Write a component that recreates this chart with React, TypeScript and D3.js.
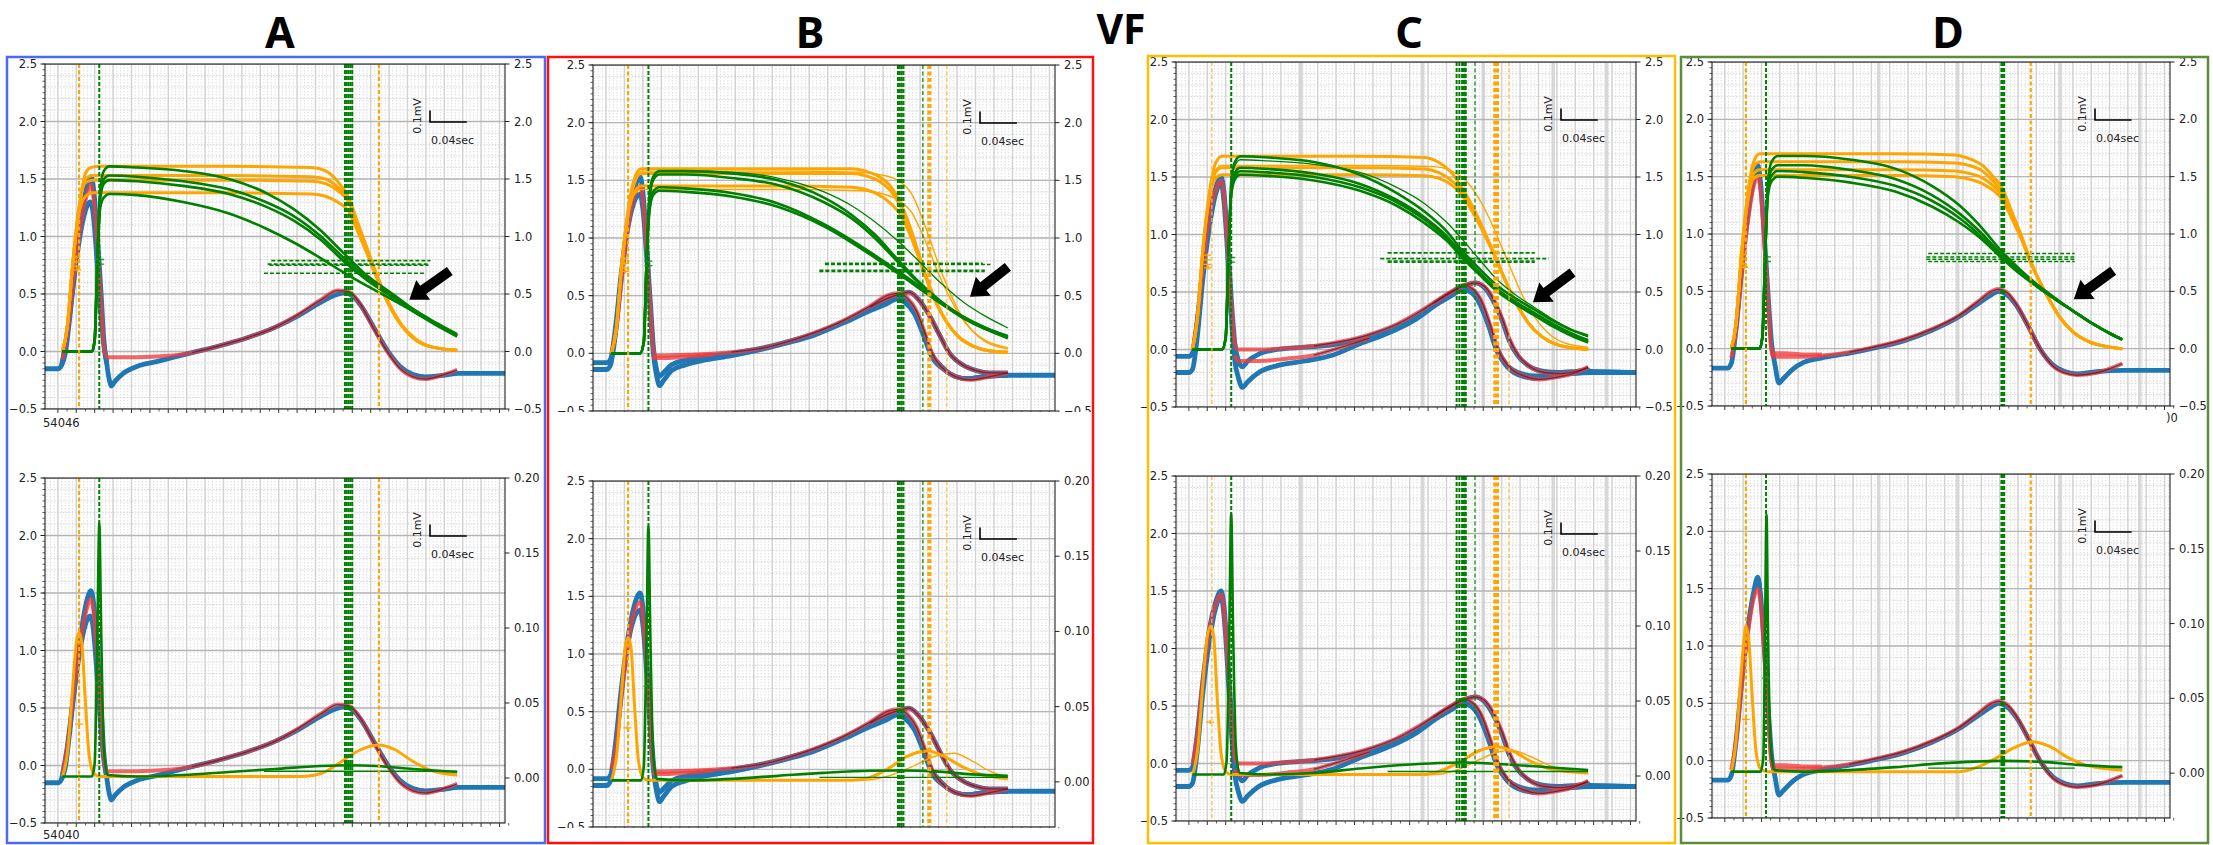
import React from 'react';
import * as d3 from 'd3';

type P = [number, number];
type HSeg = [number, number, number];

const X_DOMAIN: [number, number] = [0, 500];
const LEFT_TICKS = [-0.5, 0, 0.5, 1.0, 1.5, 2.0, 2.5];
const RIGHT_TICKS_LOW = [0, 0.05, 0.1, 0.15, 0.2];
const TITLES = ['A', 'B', 'C', 'D'];
const MARK_ORANGE_TOP: P[] = [[34,0.82],[34,0.78],[34,0.74],[35,0.71]];
const MARK_GREEN_TOP: P[] = [[60,0.8],[60,0.76]];
const MARK_ORANGE_LOW: P[] = [[37,0.36]];
const MARK_GREEN_LOW: P[] = [[59,0.72]];

// ---------------- Panel A ----------------
const aBlue: P[][] = [
  [[0,-0.15],[14,-0.15],[18,-0.12],[22,-0.02],[27,0.3],[33,0.75],[40,1.2],[46,1.45],[50,1.52],[53,1.4],[57,1.0],[61,0.5],[64,0.1],[67,-0.1],[70,-0.25],[72,-0.3],[76,-0.26],[85,-0.19],[100,-0.13],[120,-0.09],[140,-0.05],[160,-0.01],[190,0.05],[220,0.12],[250,0.21],[275,0.31],[300,0.43],[315,0.49],[326,0.51],[335,0.48],[345,0.38],[358,0.2],[373,0.0],[386,-0.13],[400,-0.2],[413,-0.22],[430,-0.21],[450,-0.19],[500,-0.19]],
  [[18,-0.12],[24,0.15],[31,0.6],[39,1.05],[45,1.25],[49,1.3],[52,1.22],[56,0.85],[60,0.4],[64,0.05],[67,-0.1]],
];
const aRed: P[][] = [
  [[19,-0.07],[25,0.2],[32,0.7],[40,1.15],[46,1.38],[50,1.45],[53,1.32],[57,0.9],[61,0.4],[64,0.05],[67,-0.05],[80,-0.05],[100,-0.05],[130,-0.04],[160,-0.01],[190,0.05],[220,0.12],[250,0.21],[275,0.32],[300,0.45],[318,0.53],[330,0.52],[342,0.42],[356,0.22],[372,0.0],[385,-0.14],[400,-0.22],[413,-0.24],[430,-0.21],[448,-0.16]],
];
const aOrange: P[][] = [
  [[19,0],[24,0.2],[30,0.75],[37,1.25],[44,1.55],[50,1.6],[60,1.61],[200,1.61],[290,1.6],[305,1.57],[318,1.48],[330,1.34],[340,1.12],[350,0.9],[362,0.64],[374,0.42],[388,0.23],[403,0.11],[420,0.04],[448,0.01]],
  [[19,0],[24,0.2],[30,0.75],[37,1.25],[44,1.5],[52,1.53],[200,1.53],[290,1.52],[305,1.5],[318,1.43],[330,1.32],[340,1.1],[350,0.89],[362,0.63],[374,0.41],[388,0.22],[403,0.1],[420,0.04],[448,0.01]],
  [[19,0],[24,0.2],[30,0.75],[37,1.25],[44,1.47],[52,1.49],[200,1.49],[290,1.48],[305,1.46],[318,1.4],[330,1.3],[340,1.09],[350,0.88],[362,0.62],[374,0.41],[388,0.22],[403,0.1],[420,0.04],[448,0.01]],
  [[19,0],[24,0.2],[30,0.75],[37,1.2],[44,1.35],[52,1.38],[200,1.38],[290,1.37],[305,1.35],[318,1.3],[330,1.22],[340,1.04],[350,0.85],[362,0.61],[374,0.4],[388,0.22],[403,0.1],[420,0.04],[448,0.01]],
];
const aOrangeThin: P[][] = [];
const aGreen: P[][] = [
  [[19,0],[51,0],[54,0.1],[57,0.8],[60,1.4],[64,1.57],[70,1.61],[100,1.6],[150,1.57],[200,1.5],[240,1.38],[270,1.24],[300,1.05],[324,0.86],[350,0.66],[378,0.5],[400,0.37],[425,0.25],[448,0.15]],
  [[19,0],[51,0],[54,0.1],[57,0.8],[60,1.35],[64,1.5],[70,1.53],[100,1.52],[150,1.48],[200,1.41],[240,1.3],[270,1.18],[300,1.0],[324,0.82],[350,0.64],[378,0.48],[400,0.36],[425,0.24],[448,0.14]],
  [[19,0],[51,0],[54,0.1],[57,0.8],[60,1.33],[64,1.46],[70,1.49],[100,1.48],[150,1.44],[200,1.37],[240,1.26],[270,1.14],[300,0.97],[324,0.79],[350,0.62],[378,0.47],[400,0.35],[425,0.23],[448,0.13]],
  [[19,0],[51,0],[54,0.1],[57,0.8],[60,1.25],[64,1.34],[70,1.37],[100,1.36],[150,1.3],[200,1.2],[240,1.07],[270,0.95],[300,0.81],[324,0.69],[350,0.57],[378,0.45],[400,0.35],[425,0.24],[448,0.14]],
];
const aGreenThin: P[][] = [];
const aOrangeLow: P[][] = [
  [[19,0.001],[25,0.02],[30,0.06],[34,0.09],[37,0.097],[40,0.09],[44,0.05],[48,0.015],[53,0.003],[60,0.001],[280,0.001],[300,0.003],[320,0.01],[340,0.018],[363,0.022],[380,0.019],[400,0.011],[420,0.005],[448,0.002]],
];
const aOrangeLowThin: P[][] = [];
const aGreenLow: P[][] = [
  [[19,0.001],[51,0.001],[54,0.01],[57,0.1],[59,0.17],[61,0.1],[64,0.02],[68,0.002],[100,0.001],[150,0.002],[200,0.004],[250,0.006],[300,0.008],[330,0.0085],[360,0.008],[400,0.006],[448,0.004]],
];
const aGreenLowThin: P[][] = [[[238,0.0045],[448,0.0045]]];
const aVOrange = [37, 363];
const aVOrangeThin: number[] = [];
const aVGreen = [59, 326, 328, 330, 332, 334];
const aVGreenThin: number[] = [];
const aHGreen: HSeg[] = [[246,419,0.79],[242,417,0.76],[244,417,0.75],[238,413,0.68]];
const aArrow: [P, P] = [[440,0.7],[396,0.45]];
const aBands: number[] = [];

// ---------------- Panel B ----------------
const bBlue: P[][] = [
  [[0,-0.08],[15,-0.08],[19,-0.05],[24,0.2],[30,0.65],[37,1.1],[44,1.4],[51,1.53],[54,1.4],[58,0.95],[62,0.45],[66,0.0],[69,-0.15],[72,-0.2],[76,-0.17],[85,-0.1],[100,-0.06],[120,-0.03],[150,0.0],[180,0.04],[210,0.1],[240,0.17],[270,0.27],[300,0.39],[318,0.46],[329,0.49],[338,0.46],[348,0.36],[358,0.17],[366,0.0],[378,-0.12],[392,-0.2],[406,-0.22],[425,-0.2],[450,-0.19],[500,-0.19]],
  [[0,-0.14],[15,-0.14],[19,-0.1],[24,0.15],[30,0.6],[37,1.05],[44,1.3],[51,1.38],[54,1.25],[58,0.85],[62,0.35],[66,-0.05],[69,-0.2],[72,-0.28],[76,-0.24],[85,-0.15],[100,-0.1],[120,-0.06],[150,-0.02],[180,0.03],[210,0.09],[240,0.16],[270,0.26],[300,0.37],[318,0.43],[329,0.47],[338,0.44],[348,0.34],[358,0.15],[366,-0.02],[378,-0.13],[392,-0.2],[406,-0.22],[425,-0.2],[449,-0.19]],
  [[300,0.38],[320,0.47],[335,0.52],[342,0.53],[352,0.47],[364,0.33],[375,0.16],[386,0.0],[400,-0.1],[415,-0.15],[429,-0.17],[449,-0.17]],
];
const bRed: P[][] = [
  [[20,0.0],[25,0.2],[31,0.65],[38,1.1],[45,1.37],[51,1.45],[54,1.33],[58,0.9],[62,0.4],[65,0.05],[67,-0.02],[80,-0.02],[110,-0.01],[150,0.01],[180,0.04],[210,0.1],[240,0.18],[270,0.28],[300,0.41],[318,0.5],[330,0.52],[340,0.48],[350,0.37],[359,0.18],[367,0.0],[380,-0.14],[395,-0.21],[408,-0.23],[425,-0.21],[449,-0.17]],
  [[64,-0.04],[80,-0.04],[100,-0.03],[130,-0.01]],
  [[300,0.4],[320,0.48],[335,0.52],[342,0.53],[352,0.47],[364,0.33],[375,0.16],[386,0.0],[400,-0.1],[415,-0.15],[430,-0.17],[449,-0.17]],
];
const bOrange: P[][] = [
  [[20,0],[25,0.2],[31,0.75],[38,1.25],[45,1.52],[52,1.6],[200,1.6],[280,1.6],[295,1.58],[310,1.53],[322,1.45],[333,1.3],[343,1.1],[352,0.88],[360,0.68],[370,0.47],[382,0.28],[396,0.14],[412,0.06],[430,0.02],[449,0.01]],
  [[20,0],[25,0.2],[31,0.75],[38,1.22],[45,1.48],[52,1.56],[200,1.56],[280,1.56],[295,1.54],[310,1.49],[322,1.41],[333,1.27],[343,1.08],[352,0.87],[360,0.67],[370,0.47],[382,0.28],[396,0.14],[412,0.06],[430,0.02],[449,0.01]],
  [[20,0],[25,0.2],[31,0.75],[38,1.2],[45,1.4],[52,1.45],[200,1.45],[280,1.44],[295,1.42],[310,1.37],[322,1.3],[333,1.2],[343,1.03],[352,0.84],[360,0.66],[370,0.46],[382,0.28],[396,0.14],[412,0.06],[430,0.02],[449,0.01]],
];
const bOrangeThin: P[][] = [
  [[20,0],[25,0.2],[31,0.75],[38,1.25],[45,1.5],[52,1.58],[200,1.58],[290,1.57],[310,1.55],[330,1.5],[345,1.38],[355,1.2],[365,0.98],[375,0.75],[385,0.55],[397,0.35],[410,0.2],[425,0.1],[449,0.04]],
  [[20,0],[25,0.2],[31,0.75],[38,1.2],[45,1.38],[52,1.42],[200,1.42],[290,1.41],[310,1.39],[330,1.33],[345,1.22],[355,1.06],[365,0.87],[375,0.67],[385,0.5],[397,0.33],[410,0.2],[425,0.11],[449,0.05]],
];
const bGreen: P[][] = [
  [[20,0],[51,0],[55,0.1],[58,0.8],[61,1.35],[65,1.53],[72,1.58],[100,1.58],[150,1.56],[200,1.5],[250,1.35],[280,1.2],[305,1.03],[329,0.82],[350,0.64],[375,0.46],[400,0.32],[425,0.22],[449,0.14]],
  [[20,0],[51,0],[55,0.1],[58,0.8],[61,1.32],[65,1.5],[72,1.55],[100,1.55],[150,1.52],[200,1.46],[250,1.31],[280,1.17],[305,1.0],[329,0.8],[350,0.63],[375,0.45],[400,0.31],[425,0.21],[449,0.13]],
  [[20,0],[51,0],[55,0.1],[58,0.8],[61,1.25],[65,1.4],[72,1.44],[100,1.43],[150,1.39],[200,1.3],[250,1.12],[280,0.98],[305,0.85],[329,0.72],[350,0.6],[375,0.45],[400,0.32],[425,0.22],[449,0.15]],
  [[20,0],[51,0],[55,0.1],[58,0.8],[61,1.22],[65,1.37],[72,1.41],[100,1.4],[150,1.36],[200,1.27],[250,1.1],[280,0.96],[305,0.83],[329,0.7],[350,0.58],[375,0.44],[400,0.31],[425,0.21],[449,0.14]],
];
const bGreenThin: P[][] = [
  [[20,0],[51,0],[55,0.1],[58,0.8],[61,1.35],[65,1.53],[72,1.58],[100,1.58],[150,1.57],[200,1.52],[250,1.4],[280,1.28],[305,1.14],[329,0.98],[350,0.82],[375,0.62],[400,0.45],[425,0.32],[449,0.22]],
];
const bOrangeLow: P[][] = [
  [[20,0.001],[26,0.02],[31,0.06],[35,0.09],[38,0.096],[41,0.09],[45,0.05],[49,0.015],[54,0.003],[60,0.001],[280,0.001],[300,0.003],[320,0.009],[340,0.017],[362,0.0205],[380,0.017],[400,0.01],[420,0.005],[449,0.002]],
];
const bOrangeLowThin: P[][] = [
  [[60,0.001],[290,0.001],[320,0.004],[345,0.01],[370,0.017],[391,0.019],[410,0.014],[430,0.007],[449,0.003]],
];
const bGreenLow: P[][] = [
  [[20,0.001],[52,0.001],[55,0.01],[58,0.1],[60,0.17],[62,0.1],[65,0.02],[69,0.002],[100,0.001],[150,0.002],[200,0.004],[250,0.006],[300,0.0074],[333,0.0076],[370,0.007],[410,0.005],[449,0.004]],
];
const bGreenLowThin: P[][] = [[[245,0.003],[449,0.003]]];
const bVOrange = [38, 363, 365];
const bVOrangeThin = [383];
const bVGreen = [60, 330, 332, 334, 336];
const bVGreenThin = [357];
const bHGreen: HSeg[] = [[251,422,0.78],[251,430,0.77],[245,424,0.71],[245,424,0.72]];
const bArrow: [P, P] = [[449,0.75],[408,0.49]];
const bBands: number[] = [];

// ---------------- Panel C ----------------
const cBlue: P[][] = [
  [[0,-0.06],[14,-0.06],[18,-0.03],[23,0.25],[29,0.7],[36,1.15],[43,1.4],[49,1.5],[52,1.38],[56,0.95],[60,0.45],[64,0.05],[68,-0.1],[72,-0.15],[78,-0.1],[90,-0.04],[110,0.0],[140,0.02],[170,0.04],[200,0.09],[230,0.16],[260,0.28],[285,0.41],[300,0.48],[311,0.53],[320,0.52],[330,0.43],[340,0.22],[348,0.03],[358,-0.12],[372,-0.2],[390,-0.23],[410,-0.22],[430,-0.2],[450,-0.19],[500,-0.2]],
  [[0,-0.2],[14,-0.2],[18,-0.17],[23,0.1],[29,0.6],[36,1.05],[43,1.35],[49,1.45],[52,1.3],[56,0.85],[60,0.3],[64,-0.1],[68,-0.25],[72,-0.33],[78,-0.28],[90,-0.2],[110,-0.14],[140,-0.1],[170,-0.05],[200,0.05],[230,0.14],[260,0.26],[285,0.4],[300,0.47],[311,0.52],[320,0.5],[330,0.4],[340,0.2],[348,0.0],[358,-0.13],[372,-0.22],[390,-0.25],[410,-0.23],[430,-0.21],[450,-0.2],[500,-0.2]],
  [[280,0.38],[300,0.5],[315,0.56],[325,0.58],[335,0.54],[345,0.42],[355,0.24],[362,0.08],[372,-0.06],[385,-0.15],[400,-0.19],[416,-0.2],[435,-0.19],[450,-0.18]],
];
const cRed: P[][] = [
  [[18,0.0],[23,0.25],[29,0.7],[36,1.15],[43,1.38],[49,1.47],[52,1.35],[56,0.9],[60,0.4],[64,0.05],[67,0.0],[90,0.0],[120,0.01],[150,0.03],[180,0.07],[210,0.13],[240,0.22],[265,0.33],[290,0.46],[305,0.53],[313,0.56],[322,0.53],[332,0.42],[342,0.2],[350,0.0],[362,-0.15],[378,-0.23],[395,-0.26],[415,-0.24],[435,-0.2],[448,-0.15]],
  [[64,-0.05],[67,-0.1],[90,-0.1],[120,-0.08],[150,-0.05],[180,0.02],[210,0.1]],
  [[280,0.4],[300,0.5],[315,0.56],[325,0.58],[335,0.55],[345,0.44],[355,0.26],[362,0.1],[372,-0.05],[385,-0.15],[400,-0.2],[416,-0.21],[435,-0.19],[448,-0.16]],
];
const cOrange: P[][] = [
  [[18,0],[23,0.25],[29,0.85],[36,1.35],[43,1.62],[50,1.68],[200,1.68],[270,1.67],[285,1.63],[298,1.55],[310,1.42],[322,1.25],[334,1.05],[346,0.83],[358,0.6],[370,0.4],[383,0.23],[398,0.11],[415,0.04],[448,0.0]],
  [[18,0],[23,0.25],[29,0.85],[36,1.32],[43,1.54],[50,1.58],[200,1.58],[270,1.57],[285,1.54],[298,1.48],[310,1.38],[322,1.22],[334,1.03],[346,0.82],[358,0.6],[370,0.4],[383,0.23],[398,0.11],[415,0.04],[448,0.0]],
  [[18,0],[23,0.25],[29,0.85],[36,1.3],[43,1.49],[50,1.52],[200,1.52],[270,1.51],[285,1.49],[298,1.44],[310,1.35],[322,1.2],[334,1.02],[346,0.82],[358,0.6],[370,0.4],[383,0.23],[398,0.11],[415,0.04],[448,0.0]],
];
const cOrangeThin: P[][] = [
  [[18,0],[23,0.25],[29,0.85],[36,1.33],[43,1.56],[50,1.6],[200,1.6],[280,1.59],[300,1.55],[315,1.47],[328,1.33],[340,1.15],[352,0.93],[364,0.7],[376,0.48],[390,0.28],[405,0.14],[425,0.05],[448,0.02]],
];
const cGreen: P[][] = [
  [[18,0],[50,0],[54,0.1],[57,0.8],[60,1.45],[64,1.63],[70,1.68],[100,1.67],[150,1.63],[200,1.52],[240,1.36],[270,1.2],[295,1.02],[311,0.86],[330,0.7],[350,0.55],[370,0.44],[389,0.35],[410,0.25],[430,0.17],[448,0.12]],
  [[18,0],[50,0],[54,0.1],[57,0.8],[60,1.38],[64,1.54],[70,1.58],[100,1.57],[150,1.53],[200,1.44],[240,1.3],[270,1.15],[295,0.98],[311,0.83],[330,0.67],[350,0.52],[370,0.41],[389,0.32],[410,0.22],[430,0.14],[448,0.08]],
  [[18,0],[50,0],[54,0.1],[57,0.8],[60,1.34],[64,1.48],[70,1.52],[100,1.51],[150,1.47],[200,1.38],[240,1.25],[270,1.1],[295,0.94],[311,0.8],[330,0.65],[350,0.5],[370,0.39],[389,0.3],[410,0.2],[430,0.12],[448,0.06]],
  [[18,0],[50,0],[54,0.1],[57,0.8],[60,1.36],[64,1.51],[70,1.55],[100,1.54],[150,1.5],[200,1.41],[240,1.28],[270,1.13],[295,0.96],[311,0.81],[330,0.66],[350,0.51],[370,0.4],[389,0.31],[410,0.21],[430,0.13],[448,0.07]],
];
const cGreenThin: P[][] = [
  [[18,0],[50,0],[54,0.1],[57,0.8],[60,1.42],[64,1.6],[70,1.65],[100,1.64],[150,1.61],[200,1.54],[240,1.41],[270,1.27],[295,1.1],[311,0.96],[330,0.78],[350,0.6],[370,0.47],[389,0.37],[410,0.26],[430,0.17],[448,0.11]],
];
const cOrangeLow: P[][] = [
  [[18,0.001],[24,0.02],[29,0.06],[34,0.093],[38,0.1],[41,0.093],[45,0.05],[49,0.015],[54,0.003],[60,0.001],[270,0.001],[290,0.004],[310,0.01],[330,0.017],[348,0.0195],[365,0.017],[385,0.01],[405,0.005],[448,0.002]],
];
const cOrangeLowThin: P[][] = [
  [[60,0.001],[280,0.001],[305,0.004],[330,0.011],[350,0.016],[365,0.017],[385,0.013],[410,0.006],[448,0.002]],
];
const cGreenLow: P[][] = [
  [[18,0.001],[52,0.001],[55,0.01],[58,0.1],[60,0.175],[62,0.1],[65,0.02],[69,0.002],[100,0.001],[150,0.002],[200,0.005],[250,0.0075],[311,0.009],[350,0.008],[400,0.006],[448,0.004]],
];
const cGreenLowThin: P[][] = [[[230,0.003],[448,0.003]]];
const cVOrange = [346, 348, 350];
const cVOrangeThin = [39, 362];
const cVGreen = [60, 305, 308, 311, 313, 315];
const cVGreenThin = [325];
const cHGreen: HSeg[] = [[230,390,0.84],[222,405,0.79],[230,390,0.77],[230,390,0.76]];
const cArrow: [P, P] = [[431,0.67],[388,0.41]];
const cBands = [136, 268, 334, 410, 468];

// ---------------- Panel D ----------------
const dBlue: P[][] = [
  [[0,-0.17],[17,-0.17],[21,-0.13],[26,0.15],[32,0.65],[39,1.15],[45,1.45],[50,1.6],[53,1.45],[57,1.0],[61,0.5],[65,0.05],[69,-0.15],[73,-0.3],[78,-0.26],[88,-0.18],[100,-0.12],[120,-0.08],[150,-0.04],[180,0.01],[210,0.07],[240,0.16],[270,0.28],[290,0.39],[305,0.47],[313,0.5],[322,0.47],[332,0.38],[345,0.2],[358,0.0],[372,-0.14],[385,-0.2],[398,-0.22],[420,-0.2],[450,-0.19],[500,-0.19]],
];
const dRed: P[][] = [
  [[21,-0.08],[26,0.15],[32,0.62],[39,1.1],[45,1.4],[50,1.5],[53,1.38],[57,0.95],[61,0.45],[64,0.05],[67,-0.07],[80,-0.07],[100,-0.07],[120,-0.06],[150,-0.03],[180,0.02],[210,0.08],[240,0.17],[270,0.29],[290,0.41],[305,0.5],[313,0.52],[322,0.49],[332,0.39],[345,0.2],[358,0.0],[372,-0.15],[385,-0.21],[398,-0.23],[420,-0.21],[448,-0.13]],
  [[64,-0.04],[80,-0.04],[100,-0.05],[120,-0.05]],
];
const dOrange: P[][] = [
  [[21,0],[26,0.2],[32,0.8],[39,1.35],[45,1.62],[52,1.7],[200,1.7],[265,1.69],[280,1.66],[295,1.6],[307,1.5],[317,1.4],[327,1.2],[338,0.98],[348,0.76],[358,0.58],[368,0.43],[380,0.27],[395,0.14],[412,0.06],[430,0.02],[448,0.0]],
  [[21,0],[26,0.2],[32,0.8],[39,1.33],[45,1.58],[52,1.63],[200,1.63],[265,1.62],[280,1.6],[295,1.55],[307,1.46],[317,1.36],[327,1.18],[338,0.97],[348,0.76],[358,0.58],[368,0.43],[380,0.27],[395,0.14],[412,0.06],[430,0.02],[448,0.0]],
  [[21,0],[26,0.2],[32,0.8],[39,1.3],[45,1.52],[52,1.56],[200,1.56],[265,1.55],[280,1.53],[295,1.49],[307,1.42],[317,1.33],[327,1.16],[338,0.96],[348,0.75],[358,0.58],[368,0.43],[380,0.27],[395,0.14],[412,0.06],[430,0.02],[448,0.0]],
  [[21,0],[26,0.2],[32,0.8],[39,1.28],[45,1.48],[52,1.51],[200,1.51],[265,1.5],[280,1.48],[295,1.44],[307,1.38],[317,1.3],[327,1.14],[338,0.95],[348,0.75],[358,0.58],[368,0.43],[380,0.27],[395,0.14],[412,0.06],[430,0.02],[448,0.0]],
];
const dOrangeThin: P[][] = [];
const dGreen: P[][] = [
  [[21,0],[52,0],[55,0.1],[58,0.8],[61,1.45],[65,1.63],[72,1.68],[100,1.68],[150,1.65],[200,1.57],[240,1.42],[270,1.25],[295,1.05],[315,0.86],[335,0.7],[355,0.56],[375,0.44],[394,0.33],[415,0.22],[435,0.13],[448,0.08]],
  [[21,0],[52,0],[55,0.1],[58,0.8],[61,1.4],[65,1.56],[72,1.6],[100,1.6],[150,1.56],[200,1.48],[240,1.34],[270,1.18],[295,1.0],[315,0.83],[335,0.68],[355,0.55],[375,0.43],[394,0.33],[415,0.22],[435,0.13],[448,0.08]],
  [[21,0],[52,0],[55,0.1],[58,0.8],[61,1.37],[65,1.51],[72,1.55],[100,1.54],[150,1.5],[200,1.42],[240,1.29],[270,1.14],[295,0.97],[315,0.81],[335,0.67],[355,0.54],[375,0.43],[394,0.33],[415,0.22],[435,0.13],[448,0.08]],
  [[21,0],[52,0],[55,0.1],[58,0.8],[61,1.33],[65,1.46],[72,1.5],[100,1.49],[150,1.45],[200,1.37],[240,1.24],[270,1.1],[295,0.95],[315,0.8],[335,0.66],[355,0.54],[375,0.43],[394,0.33],[415,0.22],[435,0.13],[448,0.08]],
];
const dGreenThin: P[][] = [];
const dOrangeLow: P[][] = [
  [[21,0.001],[26,0.02],[31,0.06],[35,0.09],[37,0.098],[40,0.09],[44,0.05],[48,0.015],[53,0.003],[60,0.001],[270,0.001],[290,0.004],[310,0.01],[330,0.017],[350,0.021],[368,0.018],[390,0.01],[410,0.005],[448,0.002]],
];
const dOrangeLowThin: P[][] = [];
const dGreenLow: P[][] = [
  [[21,0.001],[53,0.001],[56,0.01],[58,0.1],[59.5,0.173],[61,0.1],[64,0.02],[68,0.002],[100,0.001],[150,0.002],[200,0.004],[250,0.0065],[315,0.0082],[360,0.0075],[400,0.0055],[448,0.004]],
];
const dGreenLowThin: P[][] = [[[236,0.0033],[396,0.0033]]];
const dVOrange = [37, 348];
const dVOrangeThin: number[] = [];
const dVGreen = [59, 316, 317.5, 319];
const dVGreenThin: number[] = [];
const dHGreen: HSeg[] = [[236,396,0.83],[234,396,0.8],[234,396,0.78],[236,396,0.76]];
const dArrow: [P, P] = [[438,0.68],[395,0.43]];
const dBands = [182, 268, 380, 467];

// ---------- tables built from the arrays ----------
const DATA = [
  { blue: aBlue, red: aRed, orange: aOrange, orangeThin: aOrangeThin, green: aGreen, greenThin: aGreenThin, orangeLow: aOrangeLow, orangeLowThin: aOrangeLowThin, greenLow: aGreenLow, greenLowThin: aGreenLowThin, vOrange: aVOrange, vOrangeThin: aVOrangeThin, vGreen: aVGreen, vGreenThin: aVGreenThin, hGreen: aHGreen, arrow: aArrow, bands: aBands },
  { blue: bBlue, red: bRed, orange: bOrange, orangeThin: bOrangeThin, green: bGreen, greenThin: bGreenThin, orangeLow: bOrangeLow, orangeLowThin: bOrangeLowThin, greenLow: bGreenLow, greenLowThin: bGreenLowThin, vOrange: bVOrange, vOrangeThin: bVOrangeThin, vGreen: bVGreen, vGreenThin: bVGreenThin, hGreen: bHGreen, arrow: bArrow, bands: bBands },
  { blue: cBlue, red: cRed, orange: cOrange, orangeThin: cOrangeThin, green: cGreen, greenThin: cGreenThin, orangeLow: cOrangeLow, orangeLowThin: cOrangeLowThin, greenLow: cGreenLow, greenLowThin: cGreenLowThin, vOrange: cVOrange, vOrangeThin: cVOrangeThin, vGreen: cVGreen, vGreenThin: cVGreenThin, hGreen: cHGreen, arrow: cArrow, bands: cBands },
  { blue: dBlue, red: dRed, orange: dOrange, orangeThin: dOrangeThin, green: dGreen, greenThin: dGreenThin, orangeLow: dOrangeLow, orangeLowThin: dOrangeLowThin, greenLow: dGreenLow, greenLowThin: dGreenLowThin, vOrange: dVOrange, vOrangeThin: dVOrangeThin, vGreen: dVGreen, vGreenThin: dVGreenThin, hGreen: dHGreen, arrow: dArrow, bands: dBands },
];

// ---------- layout ----------
type R = { x0: number; x1: number; y0: number; y1: number };
const LAYOUT = [
  { box: [7, 57, 545, 843], stroke: '#4a6af2', tx: 280, top: { x0: 45, x1: 505, y0: 64, y1: 409 }, bot: { x0: 45, x1: 505, y0: 478, y1: 823 }, cut: false },
  { box: [548, 57, 1093, 843], stroke: '#ff1010', tx: 810, top: { x0: 593, x1: 1055, y0: 65, y1: 411 }, bot: { x0: 593, x1: 1055, y0: 481, y1: 827 }, cut: true },
  { box: [1148, 56, 1675, 843], stroke: '#ffbf00', tx: 1409, top: { x0: 1176, x1: 1636, y0: 62, y1: 407 }, bot: { x0: 1176, x1: 1636, y0: 476, y1: 821 }, cut: false },
  { box: [1681, 57, 2208, 843], stroke: '#5b8c3a', tx: 1948, top: { x0: 1712, x1: 2170, y0: 62, y1: 406 }, bot: { x0: 1712, x1: 2170, y0: 474, y1: 818 }, cut: false },
];

const FONT = 'DejaVu Sans, sans-serif';
const TITLE_FONT = 'Noto Sans, sans-serif';
const fmt1 = (v: number) => d3.format('.1f')(v).replace('-', '\u2212');
const fmt2 = (v: number) => d3.format('.2f')(v).replace('-', '\u2212');

function arrowPath(t: [number, number], p: [number, number]) {
  const dx = p[0] - t[0], dy = p[1] - t[1];
  const L = Math.hypot(dx, dy);
  const ux = dx / L, uy = dy / L, nx = -uy, ny = ux;
  const hl = 17, hw = 12, sw = 5;
  const bx = p[0] - ux * hl, by = p[1] - uy * hl;
  const pts = [
    [t[0] + nx * sw, t[1] + ny * sw], [bx + nx * sw, by + ny * sw], [bx + nx * hw, by + ny * hw], p,
    [bx - nx * hw, by - ny * hw], [bx - nx * sw, by - ny * sw], [t[0] - nx * sw, t[1] - ny * sw],
  ];
  return 'M' + pts.map((q) => q.join(',')).join('L') + 'Z';
}

function Plot({ r, low, d, id, cut }: { r: R; low: boolean; d: any; id: string; cut: boolean }) {
  const x = d3.scaleLinear().domain(X_DOMAIN).range([r.x0, r.x1]);
  const y = d3.scaleLinear().domain([-0.5, 2.5]).range([r.y1, r.y0]);
  const yR = low ? d3.scaleLinear().domain([-0.03, 0.2]).range([r.y1, r.y0]) : y;
  const mk = (ys: any) => d3.line<P>().x((p) => x(p[0])).y((p) => ys(p[1])).curve(d3.curveMonotoneX);
  const lL = mk(y);
  const lR = mk(yR);
  const minorY = d3.range(-0.5, 2.5001, 0.1);
  const minorTickY = d3.range(-0.5, 2.5001, 0.05);
  const majorX = d3.range(14, 500, 20);
  const minorX = d3.range(2, 500, 4);
  const rightTicks = low ? RIGHT_TICKS_LOW : LEFT_TICKS;
  const apO = low ? d.orangeLow : d.orange;
  const apOT = low ? d.orangeLowThin : d.orangeThin;
  const apG = low ? d.greenLow : d.green;
  const apGT = low ? d.greenLowThin : d.greenThin;
  const mO = low ? MARK_ORANGE_LOW : MARK_ORANGE_TOP;
  const mG = low ? MARK_GREEN_LOW : MARK_GREEN_TOP;
  const clipId = 'clip' + id;
  const cutId = 'cut' + id;
  const sbX = x(X_DOMAIN[1]) - 75;
  const sbY = r.y0 + 58;
  const sbW = x(40) - x(0);
  const sbH = y(0.1) - y(0);
  const cross = (p: P, key: string, color: string) => (
    <path key={key} d={`M${x(p[0]) - 4},${y(p[1])}h8M${x(p[0])},${y(p[1]) - 2}v4`} stroke={color} strokeWidth={1.3} fill="none" />
  );
  return (
    <g clipPath={cut ? `url(#${cutId})` : undefined}>
      <defs>
        <clipPath id={clipId}><rect x={r.x0} y={r.y0} width={r.x1 - r.x0} height={r.y1 - r.y0} /></clipPath>
        <clipPath id={cutId}><rect x={r.x0 - 60} y={r.y0 - 20} width={r.x1 - r.x0 + 120} height={r.y1 - r.y0 + 21} /></clipPath>
      </defs>
      <g clipPath={`url(#${clipId})`}>
        {minorX.map((m) => (
          <line key={'mx' + m} x1={x(m)} x2={x(m)} y1={r.y0} y2={r.y1} stroke="#d6d6d6" strokeWidth={0.8} strokeDasharray="1.5,1.5" />
        ))}
        {d.bands.map((m: number) => (
          <line key={'bd' + m} x1={x(m)} x2={x(m)} y1={r.y0} y2={r.y1} stroke="#d8d8d8" strokeWidth={3.5} />
        ))}
        {majorX.map((m) => (
          <line key={'Mx' + m} x1={x(m)} x2={x(m)} y1={r.y0} y2={r.y1} stroke="#d2d2d2" strokeWidth={1.4} />
        ))}
        {minorY.map((v) => (
          <line key={'my' + v} x1={r.x0} x2={r.x1} y1={y(v)} y2={y(v)} stroke="#cfcfcf" strokeWidth={0.8} strokeDasharray="1.5,1.5" />
        ))}
        {LEFT_TICKS.map((v) => (
          <line key={'My' + v} x1={r.x0} x2={r.x1} y1={y(v)} y2={y(v)} stroke="#b5b5b5" strokeWidth={1.3} />
        ))}
        {d.blue.map((s: P[], i: number) => (
          <path key={'b' + i} d={lL(s) || ''} fill="none" stroke="#1f77b4" strokeWidth={4.8} strokeLinejoin="round" />
        ))}
        {d.red.map((s: P[], i: number) => (
          <path key={'r' + i} d={lL(s) || ''} fill="none" stroke="#f03c3c" strokeOpacity={0.78} strokeWidth={4} strokeLinejoin="round" />
        ))}
        {d.red.map((s: P[], i: number) => (
          <path key={'k' + i} d={lL(s.filter((p) => p[0] >= 150)) || ''} fill="none" stroke="#1c1c3c" strokeOpacity={0.6} strokeWidth={1.3} />
        ))}
        {apO.map((s: P[], i: number) => (
          <path key={'o' + i} d={lR(s) || ''} fill="none" stroke="#ffa500" strokeWidth={3} />
        ))}
        {apOT.map((s: P[], i: number) => (
          <path key={'ot' + i} d={lR(s) || ''} fill="none" stroke="#ffa500" strokeWidth={1.4} />
        ))}
        {apG.map((s: P[], i: number) => (
          <path key={'g' + i} d={lR(s) || ''} fill="none" stroke="#008000" strokeWidth={2.6} />
        ))}
        {apGT.map((s: P[], i: number) => (
          <path key={'gt' + i} d={lR(s) || ''} fill="none" stroke="#008000" strokeWidth={1.3} />
        ))}
        {mO.map((p, i) => cross(p, 'mo' + i, '#ffa500'))}
        {mG.map((p, i) => cross(p, 'mg' + i, '#2e8b2e'))}
        {!low && d.hGreen.map((h: HSeg, i: number) => (
          <line key={'h' + i} x1={x(h[0])} x2={x(h[1])} y1={y(h[2])} y2={y(h[2])} stroke="#008000" strokeWidth={1.6} strokeDasharray="4,2" />
        ))}
        {d.vOrange.map((m: number, i: number) => (
          <line key={'vo' + i} x1={x(m)} x2={x(m)} y1={r.y0} y2={r.y1} stroke="#ffa500" strokeWidth={2.2} strokeDasharray="4,2.5" />
        ))}
        {d.vOrangeThin.map((m: number, i: number) => (
          <line key={'vot' + i} x1={x(m)} x2={x(m)} y1={r.y0} y2={r.y1} stroke="#ffb733" strokeWidth={1.2} strokeDasharray="4,2.5" />
        ))}
        {d.vGreen.map((m: number, i: number) => (
          <line key={'vg' + i} x1={x(m)} x2={x(m)} y1={r.y0} y2={r.y1} stroke="#008000" strokeWidth={2} strokeDasharray="4,2" />
        ))}
        {d.vGreenThin.map((m: number, i: number) => (
          <line key={'vgt' + i} x1={x(m)} x2={x(m)} y1={r.y0} y2={r.y1} stroke="#008000" strokeWidth={1.2} strokeDasharray="4,2.5" />
        ))}
        {!low && (
          <path d={arrowPath([x(d.arrow[0][0]), y(d.arrow[0][1])], [x(d.arrow[1][0]), y(d.arrow[1][1])])} fill="#000" />
        )}
      </g>
      {/* scale bar */}
      <path d={`M${sbX},${sbY + sbH}L${sbX},${sbY}L${sbX + sbW},${sbY}`} fill="none" stroke="#000" strokeWidth={1.6} />
      <text x={0} y={0} transform={`translate(${sbX - 9},${sbY - 6}) rotate(-90)`} fontFamily={FONT} fontSize={11} textAnchor="middle" fill="#222">0.1mV</text>
      <text x={sbX + 1} y={sbY + 22} fontFamily={FONT} fontSize={11} fill="#222">0.04sec</text>
      {/* frame */}
      <rect x={r.x0} y={r.y0} width={r.x1 - r.x0} height={r.y1 - r.y0} fill="none" stroke="#222" strokeWidth={1.1} />
      {/* left axis */}
      {minorTickY.map((v) => (
        <line key={'lt' + v} x1={r.x0 - 2.5} x2={r.x0} y1={y(v)} y2={y(v)} stroke="#333" strokeWidth={0.8} />
      ))}
      {LEFT_TICKS.map((v) => (
        <g key={'ll' + v}>
          <line x1={r.x0 - 4.5} x2={r.x0} y1={y(v)} y2={y(v)} stroke="#222" strokeWidth={1} />
          <text x={r.x0 - 8} y={y(v) + 4} textAnchor="end" fontFamily={FONT} fontSize={11.5} fill="#222">{fmt1(v)}</text>
        </g>
      ))}
      {/* right axis */}
      {rightTicks.map((v) => (
        <g key={'rl' + v}>
          <line x1={r.x1} x2={r.x1 + 4.5} y1={yR(v)} y2={yR(v)} stroke="#222" strokeWidth={1} />
          <text x={r.x1 + 9} y={yR(v) + 4} textAnchor="start" fontFamily={FONT} fontSize={11.5} fill="#222">{low ? fmt2(v) : fmt1(v)}</text>
        </g>
      ))}
      {/* bottom ticks */}
      {majorX.map((m) => (
        <line key={'bt' + m} x1={x(m)} x2={x(m)} y1={r.y1} y2={r.y1 + 4} stroke="#333" strokeWidth={1} />
      ))}
      {majorX.map((m) => (
        <line key={'bt2' + m} x1={x(m + 10)} x2={x(m + 10)} y1={r.y1} y2={r.y1 + 2.5} stroke="#333" strokeWidth={0.8} />
      ))}
    </g>
  );
}

export default function App() {
  return (
    <div style={{ position: 'absolute', left: 0, top: 0 }}>
      <svg width={2213} height={845} style={{ display: 'block', background: '#fff' }}>
        <rect x={0} y={0} width={2213} height={845} fill="#fff" />
        {LAYOUT.map((L, i) => (
          <g key={i}>
            <Plot r={L.top} low={false} d={DATA[i]} id={`t${i}`} cut={L.cut} />
            <Plot r={L.bot} low={true} d={DATA[i]} id={`b${i}`} cut={L.cut} />
            <rect x={L.box[0]} y={L.box[1]} width={L.box[2] - L.box[0]} height={L.box[3] - L.box[1]} fill="none" stroke={L.stroke} strokeWidth={2.5} />
            <text x={L.tx} y={48} textAnchor="middle" fontFamily={TITLE_FONT} fontWeight={700} fontSize={43} fill="#000">{TITLES[i]}</text>
          </g>
        ))}
        <text x={1121} y={44} textAnchor="middle" fontFamily={TITLE_FONT} fontWeight={700} fontSize={41} fill="#000">VF</text>
        <text x={43} y={427} fontFamily={FONT} fontSize={11.5} fill="#222">54046</text>
        <text x={43} y={839} fontFamily={FONT} fontSize={11.5} fill="#222">54040</text>
        <text x={2166} y={422} fontFamily={FONT} fontSize={11.5} fill="#222">)0</text>
      </svg>
    </div>
  );
}
